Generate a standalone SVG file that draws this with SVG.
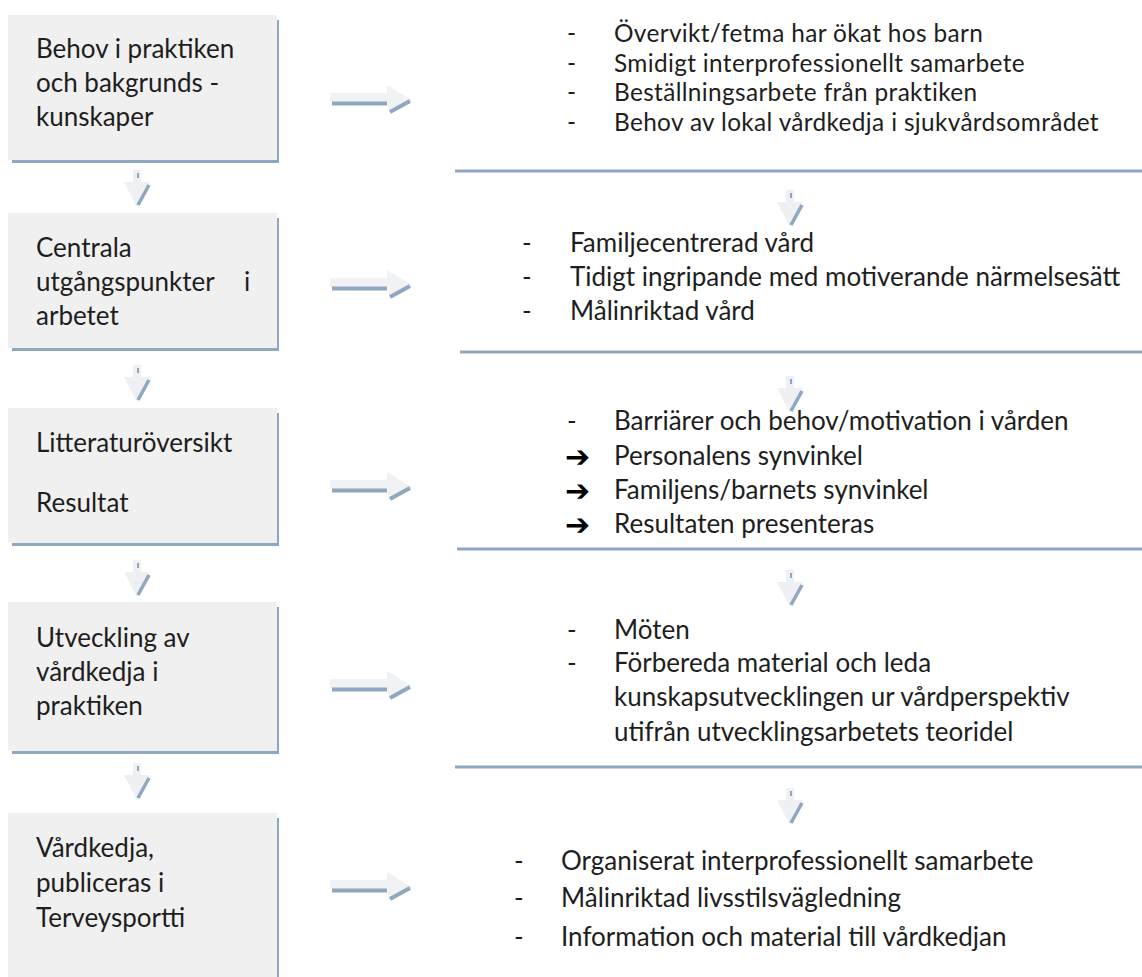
<svg xmlns="http://www.w3.org/2000/svg" width="1142" height="977" viewBox="0 0 1142 977">
<style>
.box{fill:#f0f0f0;}
.sh{fill:#8fa7bf;}
.t{font-family:Lato,"Open Sans","Liberation Sans",sans-serif;font-size:26px;fill:#1e1e1e;}
.s{font-size:24.4px;letter-spacing:0.35px;}
.rule{stroke:#8fa7bf;stroke-width:3;}
.ar{font-family:"DejaVu Sans",sans-serif;font-weight:bold;font-size:30px;fill:#000;}
</style>
<defs>
<g id="rarrow">
<polygon points="0,-7 57,-7 57,-15 82,0 59,12 57,2 0,2" fill="#f0f2f4"/>
<line x1="2" y1="3.5" x2="57" y2="3.5" stroke="#8fa7bf" stroke-width="4"/>
<line x1="60" y1="12" x2="80" y2="1" stroke="#8fa7bf" stroke-width="4"/>
</g>
<g id="darrow">
<polygon points="-4,0 4,0 4,12 13,12 0,37 -13,12 -4,12" fill="#eef0f3"/>
<line x1="12" y1="15" x2="1" y2="35" stroke="#8fa7bf" stroke-width="3.5"/>
<line x1="1" y1="3" x2="1" y2="8" stroke="#8fa7bf" stroke-width="2"/>
</g>
</defs>

<g id="node1">
<rect class="sh" x="12" y="158" width="267" height="5"/>
<rect class="sh" x="275" y="20" width="4" height="143"/>
<rect class="box" x="8" y="15" width="269" height="145"/>
<text class="t" x="36" y="58">Behov i praktiken</text>
<text class="t" x="36" y="92">och bakgrunds -</text>
<text class="t" x="36" y="126">kunskaper</text>
</g>
<g id="node2">
<rect class="sh" x="12" y="346" width="267" height="5"/>
<rect class="sh" x="275" y="218" width="4" height="133"/>
<rect class="box" x="8" y="213" width="269" height="135"/>
<text class="t" x="36" y="257">Centrala</text>
<text class="t" x="36" y="291">utgångspunkter <tspan x="244">i</tspan></text>
<text class="t" x="36" y="325">arbetet</text>
</g>
<g id="node3">
<rect class="sh" x="12" y="541" width="267" height="5"/>
<rect class="sh" x="275" y="413" width="4" height="133"/>
<rect class="box" x="8" y="408" width="269" height="135"/>
<text class="t" x="36" y="452">Litteraturöversikt</text>
<text class="t" x="36" y="512">Resultat</text>
</g>
<g id="node4">
<rect class="sh" x="12" y="749" width="267" height="5"/>
<rect class="sh" x="275" y="607" width="4" height="147"/>
<rect class="box" x="8" y="602" width="269" height="149"/>
<text class="t" x="36" y="647">Utveckling av</text>
<text class="t" x="36" y="681">vårdkedja i</text>
<text class="t" x="36" y="715">praktiken</text>
</g>
<g id="node5">
<rect class="sh" x="275" y="818" width="4" height="159"/>
<rect class="box" x="8" y="813" width="269" height="164"/>
<text class="t" x="36" y="857">Vårdkedja,</text>
<text class="t" x="36" y="892">publiceras i</text>
<text class="t" x="36" y="927">Terveysportti</text>
</g>

<g id="detail1">
<text class="t s" x="567" y="42">-</text>
<text class="t s" x="614" y="42">Övervikt/fetma har ökat hos barn</text>
<text class="t s" x="567" y="71.5">-</text>
<text class="t s" x="614" y="71.5">Smidigt interprofessionellt samarbete</text>
<text class="t s" x="567" y="101">-</text>
<text class="t s" x="614" y="101">Beställningsarbete från praktiken</text>
<text class="t s" x="567" y="130.5">-</text>
<text class="t s" x="614" y="130.5">Behov av lokal vårdkedja i sjukvårdsområdet</text>
</g>
<g id="detail2">
<text class="t" x="522" y="252">-</text>
<text class="t" x="570" y="252">Familjecentrerad vård</text>
<text class="t" x="522" y="286">-</text>
<text class="t" x="570" y="286">Tidigt ingripande med motiverande närmelsesätt</text>
<text class="t" x="522" y="320">-</text>
<text class="t" x="570" y="320">Målinriktad vård</text>
</g>
<g id="detail3">
<text class="t" x="567" y="430">-</text>
<text class="t" x="614" y="430">Barriärer och behov/motivation i vården</text>
<text class="ar" x="565" y="467">➔</text>
<text class="t" x="614" y="465">Personalens synvinkel</text>
<text class="ar" x="565" y="501">➔</text>
<text class="t" x="614" y="499">Familjens/barnets synvinkel</text>
<text class="ar" x="565" y="535">➔</text>
<text class="t" x="614" y="533">Resultaten presenteras</text>
</g>
<g id="detail4">
<text class="t" x="567" y="639">-</text>
<text class="t" x="614" y="639">Möten</text>
<text class="t" x="567" y="672">-</text>
<text class="t" x="614" y="672">Förbereda material och leda</text>
<text class="t" x="614" y="706">kunskapsutvecklingen ur vårdperspektiv</text>
<text class="t" x="614" y="741">utifrån utvecklingsarbetets teoridel</text>
</g>
<g id="detail5">
<text class="t" x="514" y="870">-</text>
<text class="t" x="561" y="870">Organiserat interprofessionellt samarbete</text>
<text class="t" x="514" y="907">-</text>
<text class="t" x="561" y="907">Målinriktad livsstilsvägledning</text>
<text class="t" x="514" y="946">-</text>
<text class="t" x="561" y="946">Information och material till vårdkedjan</text>
</g>

<g id="connectors">
<line class="rule" x1="455" y1="171" x2="1142" y2="171"/>
<line class="rule" x1="460" y1="352" x2="1142" y2="352"/>
<line class="rule" x1="457" y1="549" x2="1142" y2="549"/>
<line class="rule" x1="455" y1="767" x2="1142" y2="767"/>
<use href="#rarrow" x="330" y="100"/>
<use href="#rarrow" x="330" y="285"/>
<use href="#rarrow" x="330" y="487"/>
<use href="#rarrow" x="330" y="686"/>
<use href="#rarrow" x="330" y="887"/>
<use href="#darrow" x="137" y="170"/>
<use href="#darrow" x="137" y="365"/>
<use href="#darrow" x="137" y="560"/>
<use href="#darrow" x="137" y="763"/>
<use href="#darrow" x="790" y="190"/>
<use href="#darrow" x="790" y="376"/>
<use href="#darrow" x="790" y="570"/>
<use href="#darrow" x="790" y="788"/>
</g>
</svg>
